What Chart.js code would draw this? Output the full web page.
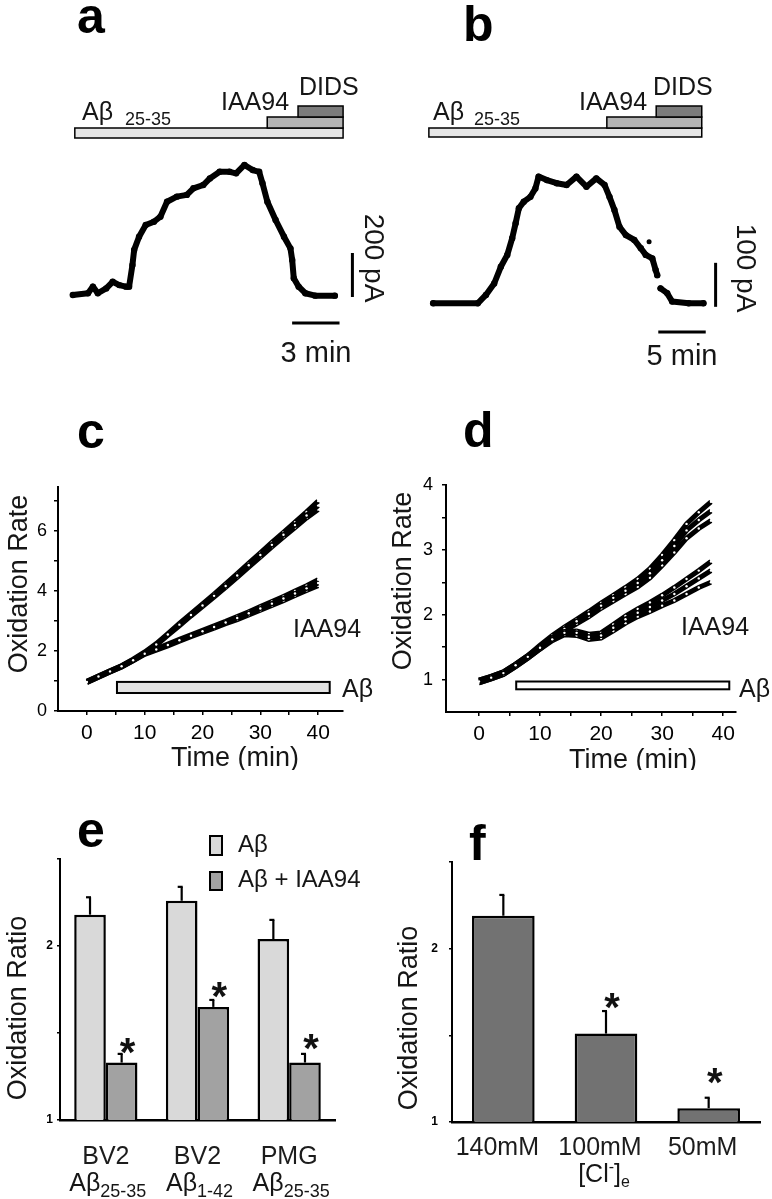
<!DOCTYPE html>
<html>
<head>
<meta charset="utf-8">
<script src="https://cdn.jsdelivr.net/npm/chart.js@4.4.0/dist/chart.umd.min.js"></script>
<style>
body { margin: 0; background: #fff; }
#wrap { position: relative; width: 772px; height: 1199px; overflow: hidden; }
canvas { position: absolute; }
</style>
</head>
<body>
<div id="wrap">
<canvas id="cA" width="386" height="380" style="left:0;top:0"></canvas>
<canvas id="cB" width="386" height="380" style="left:386px;top:0"></canvas>
<canvas id="cC" width="386" height="390" style="left:0;top:380px"></canvas>
<canvas id="cD" width="386" height="390" style="left:386px;top:380px"></canvas>
<canvas id="cE" width="386" height="419" style="left:0;top:780px"></canvas>
<canvas id="cF" width="386" height="419" style="left:386px;top:780px"></canvas>
</div>
<script>
// panel a: current trace (min, pA)
const aTime = [0,0.96,1.27,1.58,2.11,2.52,2.94,3.36,3.56,3.77,3.88,4.19,4.61,5.13,5.54,5.96,6.58,7.21,7.63,8.25,8.67,9.29,9.92,10.33,10.86,11.38,11.79,12.0,12.31,12.83,13.36,13.77,13.88,13.98,14.29,14.71,15.33,16.58];
const aCurrent = [0,8,38,8,30,60,45,38,38,136,205,265,318,333,356,424,447,455,485,500,530,560,560,553,591,568,560,508,424,341,265,212,159,76,38,8,-3,-3];
const aStart = [0.125, 12.3, 14.25];   // Abeta, IAA94, DIDS on
const aEnd = 17.1;

// panel b
const bTime = [0,4.7,5.56,6.43,7.13,7.81,8.33,8.69,9.03,9.55,10.25,10.77,11.11,11.98,13.02,14.06,15.1,16.15,17.19,18.06,18.58,19.1,19.63,20.31,21.19,21.88,22.4,23.09,23.44,23.61,23.8,23.96,24.66,25.18,26.92,28.48];
const bCurrent = [0,0,19,45,83,110,148,182,216,231,242,261,288,280,273,269,288,265,284,269,242,212,174,155,144,125,110,102,76,64,null,34,23,4,0,0];
const bStray = [22.75, 140];
const bStart = [-0.45, 18.3, 23.5];
const bEnd = 28.3;

// panel c: oxidation rate, 3 traces each
const cTime = [0,2,4,6,8,10,12,14,16,18,20,22,24,26,28,30,32,34,36,38,40];
const cAb1 = [0.97,1.15,1.32,1.49,1.7,1.94,2.22,2.55,2.88,3.2,3.52,3.84,4.17,4.52,4.86,5.2,5.54,5.88,6.2,6.52,6.85];
const cAb2 = [0.95,1.13,1.3,1.47,1.68,1.92,2.19,2.52,2.84,3.17,3.48,3.8,4.12,4.46,4.8,5.13,5.47,5.8,6.12,6.44,6.72];
const cAb3 = [0.99,1.17,1.34,1.51,1.73,1.97,2.25,2.58,2.92,3.25,3.57,3.9,4.24,4.58,4.93,5.27,5.62,5.96,6.3,6.64,7.0];
const cIaa1 = [0.97,1.15,1.32,1.49,1.69,1.91,2.05,2.2,2.36,2.51,2.66,2.8,2.95,3.1,3.26,3.42,3.58,3.75,3.92,4.09,4.27];
const cIaa2 = [0.95,1.13,1.3,1.47,1.67,1.89,2.03,2.17,2.33,2.48,2.62,2.76,2.91,3.05,3.2,3.36,3.52,3.68,3.85,4.02,4.18];
const cIaa3 = [0.99,1.17,1.34,1.51,1.71,1.93,2.07,2.23,2.39,2.54,2.69,2.84,2.99,3.15,3.31,3.48,3.65,3.82,4.0,4.18,4.38];
const cAbOn = [5.2, 42.0];
const cTicksX = [0,5,10,15,20,25,30,35,40];
const cTicksY = [0,1,2,3,4,5,6,7];

// panel d
const dTime = [0,2,4,6,8,10,12,14,16,18,20,22,24,26,28,30,32,34,36,38];
const dAb1 = [0.97,1.03,1.1,1.22,1.35,1.5,1.65,1.78,1.9,2.01,2.14,2.26,2.37,2.49,2.64,2.84,3.06,3.3,3.46,3.6];
const dAb2 = [0.95,1.01,1.08,1.2,1.33,1.47,1.62,1.75,1.86,1.97,2.1,2.21,2.32,2.43,2.57,2.76,2.96,3.18,3.33,3.45];
const dAb3 = [0.99,1.05,1.12,1.24,1.37,1.53,1.68,1.81,1.93,2.05,2.18,2.3,2.42,2.55,2.71,2.92,3.15,3.4,3.58,3.74];
const dIaa1 = [0.97,1.03,1.1,1.22,1.35,1.49,1.62,1.72,1.72,1.66,1.68,1.8,1.93,2.03,2.12,2.22,2.32,2.44,2.56,2.68];
const dIaa2 = [0.95,1.01,1.08,1.2,1.33,1.47,1.6,1.69,1.68,1.62,1.64,1.75,1.87,1.97,2.05,2.14,2.22,2.32,2.42,2.5];
const dIaa3 = [0.99,1.05,1.12,1.24,1.37,1.51,1.64,1.74,1.75,1.7,1.72,1.85,1.98,2.09,2.19,2.3,2.42,2.55,2.68,2.82];
const dAbOn = [6.1, 41.0];
const dTicksX = [0,5,10,15,20,25,30,35,40];
const dTicksY = [1,1.5,2,2.5,3,3.5,4];

// panel e
const eCells = ['BV2', 'BV2', 'PMG'];
const ePeptide = ['25-35', '1-42', '25-35'];
const eAb = [2.18, 2.26, 2.04];
const eAbErr = [0.10, 0.08, 0.11];
const eIaa = [1.33, 1.65, 1.33];
const eIaaErr = [0.05, 0.04, 0.05];
const ratioTicks = [1, 1.5, 2, 2.5];

// panel f
const fConc = ['140mM', '100mM', '50mM'];
const fRatio = [2.19, 1.51, 1.08];
const fErr = [0.12, 0.13, 0.06];
const fSig = [false, true, true];

const FF = '"Liberation Sans", Arial, Helvetica, sans-serif';
Chart.defaults.font.family = FF;
Chart.defaults.color = '#111';
Chart.defaults.animation = false;

function txt(ctx, s, x, y, size, o) {
  o = o || {};
  ctx.save();
  ctx.font = (o.bold ? 'bold ' : '') + size + 'px ' + FF;
  ctx.fillStyle = o.color || '#161616';
  ctx.textAlign = o.align || 'left';
  ctx.textBaseline = o.base || 'alphabetic';
  ctx.translate(x, y);
  if (o.rot) ctx.rotate(o.rot);
  ctx.fillText(s, 0, 0);
  ctx.restore();
}

// parts: [text, size, dy]
function rich(ctx, parts, x, y, center) {
  ctx.save();
  ctx.fillStyle = '#161616';
  ctx.textBaseline = 'alphabetic';
  ctx.textAlign = 'left';
  let w = 0;
  parts.forEach(p => { ctx.font = p[1] + 'px ' + FF; w += ctx.measureText(p[0]).width; });
  let cx = center ? x - w / 2 : x;
  parts.forEach(p => {
    ctx.font = p[1] + 'px ' + FF;
    ctx.fillText(p[0], cx, y + (p[2] || 0));
    cx += ctx.measureText(p[0]).width;
  });
  ctx.restore();
}

function box(ctx, x0, y0, x1, y1, fill, lw) {
  ctx.fillStyle = fill;
  ctx.fillRect(x0, y0, x1 - x0, y1 - y0);
  ctx.strokeStyle = '#000';
  ctx.lineWidth = lw || 1.5;
  ctx.strokeRect(x0, y0, x1 - x0, y1 - y0);
}

function line(ctx, x0, y0, x1, y1, lw) {
  ctx.beginPath();
  ctx.moveTo(x0, y0);
  ctx.lineTo(x1, y1);
  ctx.strokeStyle = '#000';
  ctx.lineWidth = lw || 2;
  ctx.stroke();
}

// draws in page coordinates; X/Y map data values to page pixels
function deco(id, ox, oy, fn) {
  return {
    id: id,
    afterDraw(chart) {
      const ctx = chart.ctx;
      const X = v => chart.scales.x.getPixelForValue(v) + ox;
      const Y = v => chart.scales.y.getPixelForValue(v) + oy;
      ctx.save();
      ctx.translate(-ox, -oy);
      fn(ctx, chart, X, Y);
      ctx.restore();
    }
  };
}

function pts(xs, ys) {
  return xs.map((t, i) => ({ x: t, y: ys[i] }));
}

function trace(xs, ys) {
  return {
    data: pts(xs, ys), showLine: true, borderColor: '#000', borderWidth: 5,
    pointRadius: 1.2, pointBackgroundColor: '#fff', pointBorderWidth: 0, tension: 0
  };
}

const baseOpts = {
  responsive: false, animation: false, events: [], devicePixelRatio: 1,
  plugins: { legend: { display: false }, tooltip: { enabled: false } }
};

// ---------- a ----------
new Chart(document.getElementById('cA'), {
  type: 'scatter',
  data: { datasets: [{
    data: pts(aTime, aCurrent), showLine: true, borderColor: '#000', borderWidth: 6,
    pointRadius: 3.2, pointBackgroundColor: '#000', pointBorderWidth: 0,
    borderJoinStyle: 'round', borderCapStyle: 'round'
  }] },
  options: Object.assign({}, baseOpts, {
    layout: { padding: { left: 60, top: 60, right: 0, bottom: 10 } },
    scales: {
      x: { type: 'linear', display: false, min: -0.8125, max: 19.5625 },
      y: { display: false, min: -340.9, max: 1068.2 }
    }
  }),
  plugins: [deco('decoA', 0, 0, (ctx, chart, X, Y) => {
    txt(ctx, 'a', 77, 33, 50, { bold: true, color: '#000' });
    box(ctx, X(aStart[0]), 128, X(aEnd), 138, '#e6e6e6');
    box(ctx, X(aStart[1]), 117, X(aEnd), 128, '#b4b4b4');
    box(ctx, X(aStart[2]), 106, X(aEnd), 117, '#7c7c7c');
    txt(ctx, 'Aβ', 82, 120, 25);
    txt(ctx, '25-35', 125, 125, 18);
    txt(ctx, 'IAA94', 221, 110, 25);
    txt(ctx, 'DIDS', 299, 95, 25);
    line(ctx, X(13.875), Y(-127), X(16.875), Y(-127), 3);
    line(ctx, X(17.69), Y(-9), X(17.69), Y(191), 3);
    txt(ctx, '3 min', 316, 362, 29, { align: 'center' });
    txt(ctx, '200 pA', 373, 258, 28, { align: 'center', base: 'middle', rot: Math.PI / 2 });
  })]
});

// ---------- b ----------
new Chart(document.getElementById('cB'), {
  type: 'scatter',
  data: { datasets: [{
    data: pts(bTime, bCurrent), showLine: true, spanGaps: false, borderColor: '#000', borderWidth: 6,
    pointRadius: 3.2, pointBackgroundColor: '#000', pointBorderWidth: 0,
    borderJoinStyle: 'round', borderCapStyle: 'round'
  }, {
    data: [{ x: bStray[0], y: bStray[1] }], pointRadius: 2.5, pointBackgroundColor: '#000', pointBorderWidth: 0
  }] },
  options: Object.assign({}, baseOpts, {
    layout: { padding: { left: 34, top: 60, right: 0, bottom: 10 } },
    scales: {
      x: { type: 'linear', display: false, min: -1.385, max: 35.28 },
      y: { display: false, min: -151.6, max: 553 }
    }
  }),
  plugins: [deco('decoB', 386, 0, (ctx, chart, X, Y) => {
    txt(ctx, 'b', 463, 41, 50, { bold: true, color: '#000' });
    box(ctx, X(bStart[0]), 128, X(bEnd), 137, '#e6e6e6');
    box(ctx, X(bStart[1]), 117, X(bEnd), 128, '#b4b4b4');
    box(ctx, X(bStart[2]), 106, X(bEnd), 117, '#7c7c7c');
    txt(ctx, 'Aβ', 433, 120, 25);
    txt(ctx, '25-35', 474, 125, 18);
    txt(ctx, 'IAA94', 579, 110, 25);
    txt(ctx, 'DIDS', 653, 95, 25);
    line(ctx, X(23.72), Y(-65), X(28.72), Y(-65), 3);
    line(ctx, X(29.76), Y(-8), X(29.76), Y(92), 3);
    txt(ctx, '5 min', 682, 365, 29, { align: 'center' });
    txt(ctx, '100 pA', 745, 268, 28, { align: 'center', base: 'middle', rot: Math.PI / 2 });
  })]
});

function rateScales(xMin, xMax, xTicks, yMin, yMax, yTicks, yLabel, yW, xH, yPad) {
  const grid = { drawOnChartArea: false, tickLength: 4, color: '#000', lineWidth: 1.5 };
  return {
    x: {
      type: 'linear', min: xMin, max: xMax,
      border: { color: '#000', width: 2 }, grid: grid,
      ticks: { font: { size: 21 }, color: '#000', padding: 6, autoSkip: false, maxRotation: 0,
        callback: v => (v % 10 === 0 ? v : '') },
      afterBuildTicks: s => { s.ticks = xTicks.map(v => ({ value: v })); },
      afterFit: s => { s.height = xH; }
    },
    y: {
      min: yMin, max: yMax,
      border: { color: '#000', width: 2 }, grid: grid,
      ticks: { font: { size: 18 }, color: '#000', padding: yPad, autoSkip: false, callback: yLabel },
      afterBuildTicks: s => { s.ticks = yTicks.map(v => ({ value: v })); },
      afterFit: s => { s.width = yW; }
    }
  };
}

// ---------- c ----------
new Chart(document.getElementById('cC'), {
  type: 'scatter',
  data: { datasets: [
    trace(cTime, cIaa1), trace(cTime, cIaa2), trace(cTime, cIaa3),
    trace(cTime, cAb1), trace(cTime, cAb2), trace(cTime, cAb3)
  ] },
  options: Object.assign({}, baseOpts, {
    layout: { padding: { left: 0, top: 107, right: 43, bottom: 0 } },
    scales: rateScales(-5, 44.3, cTicksX, 0, 7.47, cTicksY, v => (v % 2 === 0 ? v : ''), 58, 59, 7)
  }),
  plugins: [deco('decoC', 0, 380, (ctx, chart, X, Y) => {
    txt(ctx, 'c', 77, 448, 50, { bold: true, color: '#000' });
    box(ctx, X(cAbOn[0]), Y(0.97), X(cAbOn[1]), Y(0.6), '#e2e2e2', 2);
    txt(ctx, 'Aβ', 342, 697, 25);
    txt(ctx, 'IAA94', 293, 637, 25);
    txt(ctx, 'Time (min)', 235, 766, 27, { align: 'center' });
    txt(ctx, 'Oxidation Rate', 20, 584, 27, { align: 'center', base: 'middle', rot: -Math.PI / 2 });
  })]
});

// ---------- d ----------
new Chart(document.getElementById('cD'), {
  type: 'scatter',
  data: { datasets: [
    trace(dTime, dIaa1), trace(dTime, dIaa2), trace(dTime, dIaa3),
    trace(dTime, dAb1), trace(dTime, dAb2), trace(dTime, dAb3)
  ] },
  options: Object.assign({}, baseOpts, {
    layout: { padding: { left: 0, top: 105, right: 36, bottom: 0 } },
    scales: rateScales(-5.4, 42.1, dTicksX, 0.5, 4, dTicksY, v => (Number.isInteger(v) ? v : ''), 60, 58, 9)
  }),
  plugins: [deco('decoD', 386, 380, (ctx, chart, X, Y) => {
    txt(ctx, 'd', 463, 447, 50, { bold: true, color: '#000' });
    box(ctx, X(dAbOn[0]), Y(0.97), X(dAbOn[1]), Y(0.85), '#ffffff', 2);
    txt(ctx, 'Aβ', 739, 697, 25);
    txt(ctx, 'IAA94', 681, 635, 25);
    txt(ctx, 'Time (min)', 633, 768, 27, { align: 'center' });
    txt(ctx, 'Oxidation Rate', 404, 581, 27, { align: 'center', base: 'middle', rot: -Math.PI / 2 });
  })]
});

function ratioScales(yW, xH, xPad, yPad, labelOffset) {
  return {
    x: {
      border: { color: '#000', width: 2.5 }, grid: { display: false },
      ticks: { font: { size: 25 }, color: '#1c1c1c', padding: xPad, labelOffset: labelOffset, maxRotation: 0 },
      afterFit: s => { s.height = xH; }
    },
    y: {
      min: 1, max: 2.5,
      border: { color: '#000', width: 2 },
      grid: { drawOnChartArea: false, tickLength: 3, color: '#000', lineWidth: 1.5 },
      ticks: { font: { size: 12, weight: 'bold' }, color: '#000', padding: yPad, autoSkip: false,
        callback: v => (Number.isInteger(v) ? v : '') },
      afterBuildTicks: s => { s.ticks = ratioTicks.map(v => ({ value: v })); },
      afterFit: s => { s.width = yW; }
    }
  };
}

function errBars(ctx, chart, Y, ox, oy, di, vals, errs) {
  const meta = chart.getDatasetMeta(di);
  meta.data.forEach((el, j) => {
    const x = el.x + ox;
    const top = Y(vals[j] + errs[j]);
    line(ctx, x, el.y + oy, x, top, 2.2);
    line(ctx, x - 4, top, x + 1, top, 2.2);
  });
}

function star(ctx, x, yc) {
  txt(ctx, '*', x, yc + 22, 40, { align: 'center', color: '#111', bold: true });
}

// ---------- e ----------
new Chart(document.getElementById('cE'), {
  type: 'bar',
  data: {
    labels: eCells,
    datasets: [
      { label: 'Aβ', data: eAb, backgroundColor: '#d9d9d9', borderColor: '#000', borderWidth: 2.5 },
      { label: 'Aβ + IAA94', data: eIaa, backgroundColor: '#a2a2a2', borderColor: '#000', borderWidth: 2.5 }
    ]
  },
  options: Object.assign({}, baseOpts, {
    categoryPercentage: 0.69, barPercentage: 1,
    layout: { padding: { left: 0, top: 79, right: 51, bottom: 0 } },
    scales: ratioScales(60, 79, 14, 4, 0)
  }),
  plugins: [deco('decoE', 0, 780, (ctx, chart, X, Y) => {
    txt(ctx, 'e', 77, 847, 50, { bold: true, color: '#000' });
    errBars(ctx, chart, Y, 0, 780, 0, eAb, eAbErr);
    errBars(ctx, chart, Y, 0, 780, 1, eIaa, eIaaErr);
    const gaps = [10, 12, 14];
    chart.getDatasetMeta(1).data.forEach((el, j) => {
      star(ctx, el.x + 6, Y(eIaa[j] + eIaaErr[j]) - gaps[j]);
    });
    box(ctx, 210, 836, 222, 855, '#d9d9d9', 2);
    box(ctx, 210, 872, 222, 890, '#a2a2a2', 2);
    txt(ctx, chart.data.datasets[0].label, 238, 852, 24);
    txt(ctx, chart.data.datasets[1].label, 238, 887, 24);
    ePeptide.forEach((p, i) => {
      rich(ctx, [['Aβ', 25], [p, 18, 6]], X(i) + 2, 1191, true);
    });
    txt(ctx, 'Oxidation Ratio', 19, 1008, 27, { align: 'center', base: 'middle', rot: -Math.PI / 2 });
  })]
});

// ---------- f ----------
new Chart(document.getElementById('cF'), {
  type: 'bar',
  data: {
    labels: fConc,
    datasets: [{ data: fRatio, backgroundColor: '#727272', borderColor: '#000', borderWidth: 2.5 }]
  },
  options: Object.assign({}, baseOpts, {
    categoryPercentage: 0.61, barPercentage: 1,
    layout: { padding: { left: 0, top: 82, right: 12, bottom: 0 } },
    scales: ratioScales(66, 77, 3, 11, -6)
  }),
  plugins: [deco('decoF', 386, 780, (ctx, chart, X, Y) => {
    txt(ctx, 'f', 469, 860, 50, { bold: true, color: '#000' });
    errBars(ctx, chart, Y, 386, 780, 0, fRatio, fErr);
    const gaps = [12, 12, 24];
    chart.getDatasetMeta(0).data.forEach((el, j) => {
      if (fSig[j]) star(ctx, el.x + 386 + 6, Y(fRatio[j] + fErr[j]) - gaps[j]);
    });
    rich(ctx, [['[Cl', 25], ['-', 16, -10], [']', 25], ['e', 16, 5]], X(1) - 2, 1182, true);
    txt(ctx, 'Oxidation Ratio', 410, 1018, 27, { align: 'center', base: 'middle', rot: -Math.PI / 2 });
  })]
});
</script>
</body>
</html>
